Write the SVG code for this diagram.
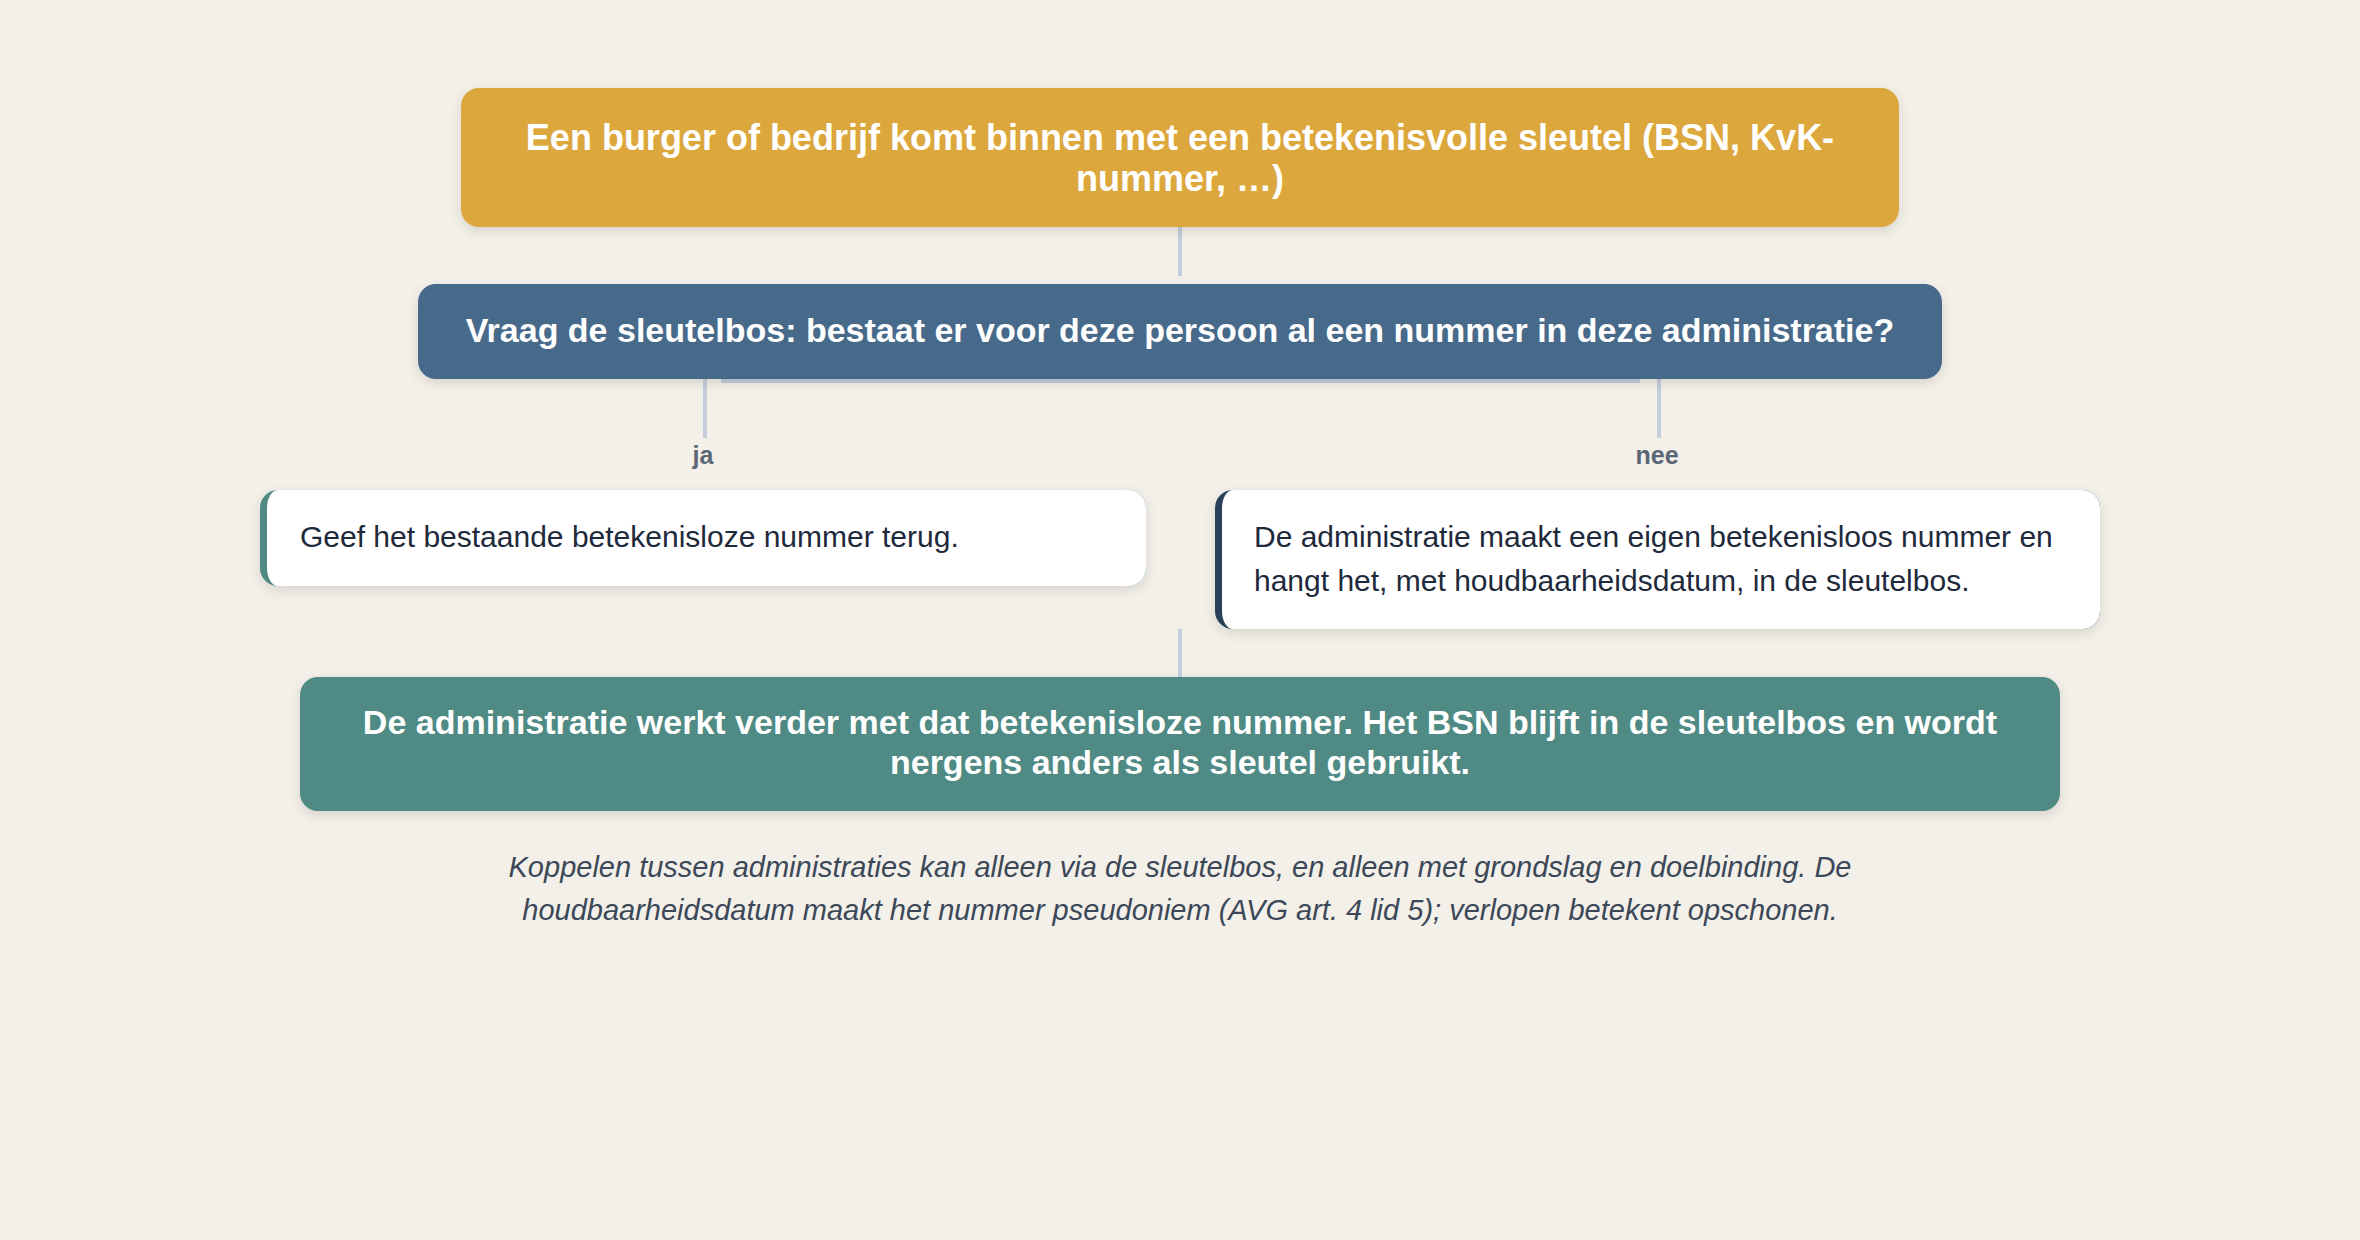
<svg xmlns="http://www.w3.org/2000/svg" width="2360" height="1240" viewBox="0 0 2360 1240">
  <style>
    .title { font-family: "Liberation Sans", Arial, sans-serif; font-weight: bold; fill: #FFFFFF; text-anchor: middle; }
    .body { font-family: "Liberation Sans", Arial, sans-serif; font-size: 30px; fill: #1E2A3B; }
    .lbl { font-family: "Liberation Sans", Arial, sans-serif; font-size: 25px; font-weight: bold; fill: #5B6675; text-anchor: middle; }
    .note { font-family: "Liberation Sans", Arial, sans-serif; font-size: 29px; font-style: italic; fill: #3C4858; text-anchor: middle; }
    .conn { stroke: #C4CEDA; stroke-width: 4; fill: none; }
  </style>
  <defs>
    <filter id="sh" x="-5%" y="-20%" width="110%" height="150%">
      <feDropShadow dx="0" dy="4" stdDeviation="6" flood-color="#000000" flood-opacity="0.12"/>
    </filter>
  </defs>
  <rect x="0" y="0" width="2360" height="1240" fill="#F3F0E9"/>

  <g id="connectors">
    <line class="conn" x1="1180" y1="227" x2="1180" y2="276"/>
    <rect x="721" y="379" width="919" height="4" fill="#C3CFDC"/>
    <line class="conn" x1="705" y1="379" x2="705" y2="438"/>
    <line class="conn" x1="1659" y1="379" x2="1659" y2="438"/>
    <text class="lbl" x="703" y="464">ja</text>
    <text class="lbl" x="1657" y="464">nee</text>
    <line class="conn" x1="1180" y1="629" x2="1180" y2="677"/>
  </g>

  <g id="start">
    <rect x="461" y="88" width="1438" height="139" rx="18" fill="#DCA73C" filter="url(#sh)"/>
    <text class="title" font-size="36" x="1180" y="150">Een burger of bedrijf komt binnen met een betekenisvolle sleutel (BSN, KvK-</text>
    <text class="title" font-size="36" x="1180" y="191">nummer, …)</text>
  </g>

  <g id="question">
    <rect x="418" y="284" width="1524" height="95" rx="18" fill="#476A8B" filter="url(#sh)"/>
    <text class="title" font-size="34" x="1180" y="342">Vraag de sleutelbos: bestaat er voor deze persoon al een nummer in deze administratie?</text>
  </g>

  <g id="ja-card">
    <rect x="260" y="490" width="886" height="96" rx="18" fill="#4F8A84" filter="url(#sh)"/>
    <path d="M278,490 H1128 A18,18 0 0 1 1146,508 V568 A18,18 0 0 1 1128,586 H278 A11,18 0 0 1 267,568 V508 A11,18 0 0 1 278,490 Z" fill="#FFFFFF"/>
    <text class="body" x="300" y="547">Geef het bestaande betekenisloze nummer terug.</text>
  </g>

  <g id="nee-card">
    <rect x="1215" y="490" width="885" height="139" rx="18" fill="#2B4058" filter="url(#sh)"/>
    <path d="M1233,490 H2082 A18,18 0 0 1 2100,508 V611 A18,18 0 0 1 2082,629 H1233 A11,18 0 0 1 1222,611 V508 A11,18 0 0 1 1233,490 Z" fill="#FFFFFF"/>
    <text class="body" x="1254" y="547">De administratie maakt een eigen betekenisloos nummer en</text>
    <text class="body" x="1254" y="591">hangt het, met houdbaarheidsdatum, in de sleutelbos.</text>
  </g>

  <g id="result">
    <rect x="300" y="677" width="1760" height="134" rx="18" fill="#508A84" filter="url(#sh)"/>
    <text class="title" font-size="34" x="1180" y="734">De administratie werkt verder met dat betekenisloze nummer. Het BSN blijft in de sleutelbos en wordt</text>
    <text class="title" font-size="34" x="1180" y="774">nergens anders als sleutel gebruikt.</text>
  </g>

  <g id="footnote">
    <text class="note" x="1180" y="877">Koppelen tussen administraties kan alleen via de sleutelbos, en alleen met grondslag en doelbinding. De</text>
    <text class="note" x="1180" y="920">houdbaarheidsdatum maakt het nummer pseudoniem (AVG art. 4 lid 5); verlopen betekent opschonen.</text>
  </g>
</svg>
